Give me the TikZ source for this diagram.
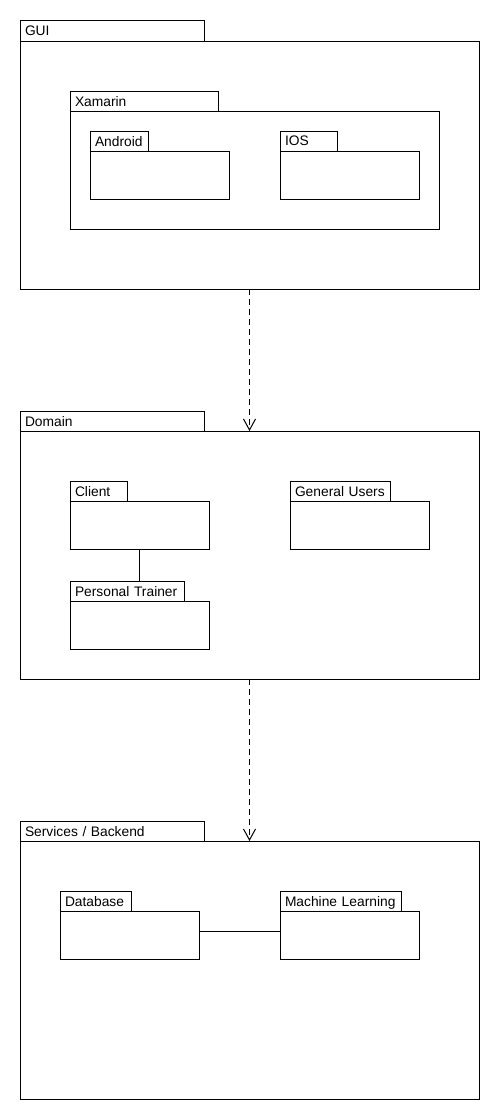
\documentclass[tikz,border=0pt]{standalone}
\usepackage{fontspec}
\setmainfont{Liberation Sans}
\usetikzlibrary{positioning, arrows.meta}

\tikzset{
  pkgbody/.style={draw, line width=1pt, inner sep=0pt, outer sep=0pt, anchor=north west},
  pkgtab/.style={draw, line width=1pt, inner sep=0pt, outer sep=0pt, anchor=south west,
    minimum height=20pt, text depth=0pt, align=left, font=\fontsize{13.8}{15}\selectfont,
    text width=#1-10pt, minimum width=#1, inner xsep=5pt},
  dep/.style={line width=1pt, dash pattern=on 6pt off 4pt, -{Straight Barb[length=11pt,width=12pt,line width=1pt]}},
  link/.style={line width=1pt}
}

\begin{document}
\begin{tikzpicture}[x=1pt, y=-1pt]
\useasboundingbox (0,0) rectangle (500,1120);

% GUI
\node[pkgbody, minimum width=459pt, minimum height=248pt] (gui) at (20,41) {};
\node[pkgtab=184pt, minimum height=21pt] (guiTab) at (gui.north west) {GUI};

\node[pkgbody, minimum width=369pt, minimum height=118pt] (xamarin) at (70,111) {};
\node[pkgtab=148pt] (xamarinTab) at (xamarin.north west) {Xamarin};

\node[pkgbody, minimum width=139pt, minimum height=48pt] (android) at (90,151) {};
\node[pkgtab=58pt] (androidTab) at (android.north west) {Android};

\node[pkgbody, minimum width=139pt, minimum height=48pt] (ios) at (280,151) {};
\node[pkgtab=57pt] (iosTab) at (ios.north west) {IOS};

% Domain
\node[pkgbody, minimum width=459pt, minimum height=248pt] (domain) at (20,431) {};
\node[pkgtab=184pt] (domainTab) at (domain.north west) {Domain};

\node[pkgbody, minimum width=139pt, minimum height=48pt] (client) at (70,501) {};
\node[pkgtab=57pt] (clientTab) at (client.north west) {Client};

\node[pkgbody, minimum width=139pt, minimum height=48pt] (users) at (290,501) {};
\node[pkgtab=100pt] (usersTab) at (users.north west) {General Users};

\node[pkgbody, minimum width=139pt, minimum height=48pt] (trainer) at (70,601) {};
\node[pkgtab=114pt] (trainerTab) at (trainer.north west) {Personal Trainer};

% Services / Backend
\node[pkgbody, minimum width=459pt, minimum height=258pt] (services) at (20,841) {};
\node[pkgtab=184pt] (servicesTab) at (services.north west) {Services / Backend};

\node[pkgbody, minimum width=139pt, minimum height=48pt] (db) at (60,911) {};
\node[pkgtab=71pt] (dbTab) at (db.north west) {Database};

\node[pkgbody, minimum width=139pt, minimum height=48pt] (ml) at (280,911) {};
\node[pkgtab=121pt] (mlTab) at (ml.north west) {Machine Learning};

% connectors
\draw[dep] (gui.south) -- (domain.north);
\draw[dep] (domain.south) -- (services.north);
\draw[link] (client.south) -- (client.south |- trainerTab.north);
\draw[link] ([yshift=4pt]db.east) -- ([yshift=4pt]ml.west);
\end{tikzpicture}
\end{document}
